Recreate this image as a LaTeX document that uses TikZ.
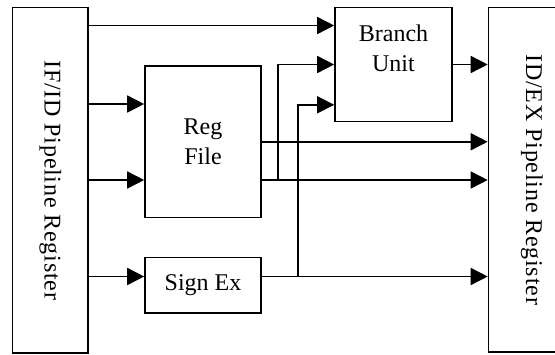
\documentclass[tikz,border=0pt]{standalone}
\usepackage{fontspec}
\setmainfont{Liberation Serif}
\usepackage{graphicx}
\usetikzlibrary{arrows.meta}

\begin{document}
\begin{tikzpicture}
[x=1pt,y=-1pt,
  boxDecorate/.style={shape=rectangle,draw,line width=1.6pt,inner sep=0pt,align=center,%
    font=\fontsize{24}{30}\selectfont},
  regDecorate/.style={boxDecorate,font=\fontsize{24}{30}\selectfont\addfontfeature{LetterSpace=3.3}},
  lineDecorate/.style={-,line width=1.6pt},
  arrowDecorate/.style={lineDecorate,-{Triangle[length=17pt,width=17pt]}}]
\useasboundingbox (0,0) rectangle (555,354);
%% pipeline registers
\node (ifid) at (50.25,180.25) [regDecorate,minimum width=75.5pt,minimum height=345.5pt]
  {\rotatebox{-90}{IF/ID Pipeline Register}};
\node (idex) at (531.75,179.75) [regDecorate,minimum width=86.5pt,minimum height=344.5pt]
  {\rotatebox{-90}{ID/EX Pipeline Register}};
%% units
\foreach \nodename/\x/\y/\w/\h/\txt in {regfile/203/141.75/116/151.5/{Reg\\File},
  signex/203/285.25/116/55.5/{Sign Ex}} {
  \node (\nodename) at (\x,\y) [boxDecorate,minimum width=\w pt,minimum height=\h pt] {\txt};
}
\node (branch) at (393.5,64.5) [boxDecorate,minimum width=117pt,minimum height=114pt,text depth=33.6pt]
  {Branch\\Unit};
\coordinate (tapReg) at (278,180);
\coordinate (tapSign) at (298,276.5);
%% wires into the units
\foreach \ys/\endnode in {25.5/branch, 104/regfile, 180/regfile, 276.5/signex} {
  \draw[arrowDecorate] (ifid.east |- 0,\ys) -- (\endnode.west |- 0,\ys);
}
%% wires into ID/EX
\foreach \ys/\startnode in {64.5/branch, 141.75/regfile, 180/regfile, 276.5/signex} {
  \draw[arrowDecorate] (\startnode.east |- 0,\ys) -- (idex.west |- 0,\ys);
}
%% taps to the branch unit
\draw[arrowDecorate] (tapReg) |- (branch.west);
\draw[arrowDecorate] (tapSign) |- ([yshift=17.5pt]branch.south west);
\end{tikzpicture}
\end{document}
